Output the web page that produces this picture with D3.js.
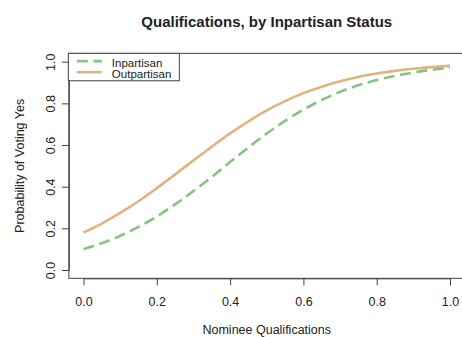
<!DOCTYPE html>
<html>
<head>
<meta charset="utf-8">
<script src="https://cdn.jsdelivr.net/npm/d3@7"></script>
<style>
  html, body { margin: 0; padding: 0; background: #fff; }
  svg { display: block; font-family: "Liberation Sans", Arial, Helvetica, sans-serif; }
</style>
</head>
<body>
<svg id="chart" width="462" height="337"></svg>
<script>
// Predicted probability of a yes vote across nominee qualifications
const qualifications = [0, 0.05, 0.1, 0.15, 0.2, 0.25, 0.3, 0.35, 0.4, 0.45, 0.5,
                        0.55, 0.6, 0.65, 0.7, 0.75, 0.8, 0.85, 0.9, 0.95, 1.0];
const inpartisan  = [0.100, 0.129, 0.164, 0.207, 0.257, 0.315, 0.379, 0.447, 0.518, 0.588, 0.655,
                     0.716, 0.770, 0.816, 0.855, 0.887, 0.912, 0.932, 0.948, 0.961, 0.970];
const outpartisan = [0.180, 0.223, 0.274, 0.330, 0.393, 0.459, 0.526, 0.592, 0.656, 0.714, 0.766,
                     0.811, 0.849, 0.880, 0.906, 0.927, 0.943, 0.956, 0.966, 0.974, 0.980];
const seriesNames = ["Inpartisan", "Outpartisan"];
const xTicks = [0, 0.2, 0.4, 0.6, 0.8, 1.0];
const yTicks = [0, 0.2, 0.4, 0.6, 0.8, 1.0];

const colors = { Inpartisan: "#86c286", Outpartisan: "#e0b47e" };
const dashes = { Inpartisan: "11,5.6", Outpartisan: null };

const svg = d3.select("#chart");

// Plot region (axis range padded 4% on each side)
const x = d3.scaleLinear().domain([0, 1]).range([83.5, 450]);
const y = d3.scaleLinear().domain([0, 1]).range([270, 61.7]);
const box = { left: x(-0.04), right: x(1.04), top: y(1.04), bottom: y(-0.04) };

const axisColor = "#444";
const textColor = "#222";

// Curves
const line = d3.line()
  .x(d => x(d[0]))
  .y(d => y(d[1]))
  .curve(d3.curveMonotoneX);

const series = [
  { name: "Outpartisan", values: outpartisan },
  { name: "Inpartisan", values: inpartisan }
];

svg.append("g").selectAll("path")
  .data(series)
  .join("path")
  .attr("d", s => line(qualifications.map((q, i) => [q, s.values[i]])))
  .attr("fill", "none")
  .attr("stroke", s => colors[s.name])
  .attr("stroke-width", 2.6)
  .attr("stroke-dasharray", s => dashes[s.name]);

// Plot box
svg.append("rect")
  .attr("x", box.left).attr("y", box.top)
  .attr("width", box.right - box.left).attr("height", box.bottom - box.top)
  .attr("fill", "none").attr("stroke", axisColor).attr("stroke-width", 1);

// X axis
const gx = svg.append("g")
  .attr("transform", `translate(0,${box.bottom})`)
  .call(d3.axisBottom(x).tickValues(xTicks).tickFormat(d3.format(".1f")).tickSize(7).tickSizeOuter(0));
gx.select(".domain").attr("stroke", axisColor);
gx.selectAll(".tick line").attr("stroke", axisColor);
gx.selectAll(".tick text")
  .attr("y", 306 - box.bottom).attr("dy", null)
  .attr("fill", textColor)
  .style("font-size", "12.5px");

// Y axis with rotated tick labels
const gy = svg.append("g")
  .attr("transform", `translate(${box.left},0)`)
  .call(d3.axisLeft(y).tickValues(yTicks).tickFormat(d3.format(".1f")).tickSize(7).tickSizeOuter(0));
gy.select(".domain").attr("stroke", axisColor);
gy.selectAll(".tick line").attr("stroke", axisColor);
gy.selectAll(".tick text")
  .attr("x", 0).attr("dy", null)
  .attr("text-anchor", "middle")
  .attr("transform", "translate(-14,0) rotate(-90)")
  .attr("fill", textColor)
  .style("font-size", "12.5px");

// Title and axis titles
svg.append("text")
  .attr("x", (box.left + box.right) / 2).attr("y", 27)
  .attr("text-anchor", "middle")
  .attr("fill", textColor)
  .style("font-size", "15px").style("font-weight", "bold")
  .text("Qualifications, by Inpartisan Status");

svg.append("text")
  .attr("x", (box.left + box.right) / 2).attr("y", 334)
  .attr("text-anchor", "middle")
  .attr("fill", textColor)
  .style("font-size", "12.5px")
  .text("Nominee Qualifications");

svg.append("text")
  .attr("transform", `translate(23.5,${(box.top + box.bottom) / 2}) rotate(-90)`)
  .attr("text-anchor", "middle")
  .attr("fill", textColor)
  .style("font-size", "12.5px")
  .text("Probability of Voting Yes");

// Legend
const legend = svg.append("g");
legend.append("rect")
  .attr("x", box.left - 0.5).attr("y", box.top)
  .attr("width", 111).attr("height", 27.4)
  .attr("fill", "#fff").attr("stroke", axisColor).attr("stroke-width", 1);

const legendRows = legend.selectAll("g.row")
  .data(seriesNames)
  .join("g")
  .attr("class", "row")
  .attr("transform", (d, i) => `translate(${box.left},${box.top + 7.8 + i * 11})`);

legendRows.append("line")
  .attr("x1", 8).attr("x2", 33)
  .attr("y1", 0).attr("y2", 0)
  .attr("stroke", d => colors[d])
  .attr("stroke-width", 2.6)
  .attr("stroke-dasharray", d => dashes[d]);

legendRows.append("text")
  .attr("x", 43).attr("y", 5.8)
  .attr("fill", textColor)
  .style("font-size", "11.5px")
  .text(d => d);
</script>
</body>
</html>
